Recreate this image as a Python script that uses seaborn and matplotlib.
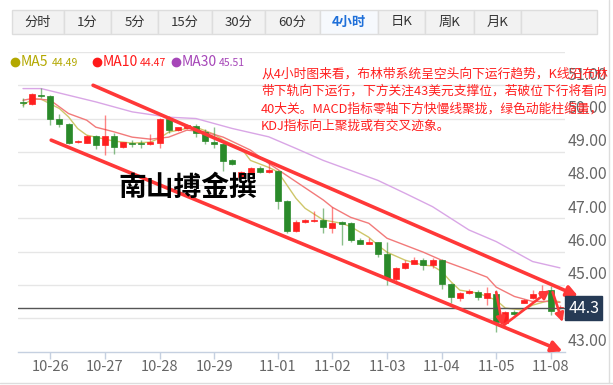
import matplotlib
matplotlib.use("Agg")
import pandas as pd
import matplotlib.pyplot as plt
import seaborn as sns
from matplotlib.patches import Rectangle
from matplotlib.lines import Line2D

W, H = 613, 385

# 4小时K线 (开 / 高 / 低 / 收)，按K线序号排列
opens = [50.50, 50.44, 50.72, 50.67, 49.98, 49.83, 49.28, 49.27, 49.46, 49.20,
         49.47, 49.14, 49.26, 49.25, 49.22, 49.26, 49.98, 49.65, 49.71, 49.78,
         49.58, 49.30, 49.22, 48.74, 48.24, 48.35, 48.50, 48.39, 48.42, 47.51,
         46.62, 46.90, 46.92, 46.94, 46.70, 46.89, 46.85, 46.36, 46.24, 46.28,
         45.92, 45.17, 45.52, 45.64, 45.76, 45.59, 45.74, 45.02, 44.59, 44.74,
         44.79, 44.59, 44.72, 43.85, 44.19, 44.46, 44.60, 44.68, 44.84, 44.30]
highs = [50.62, 50.78, 50.92, 50.72, 50.15, 49.86, 49.36, 49.49, 49.50, 50.10,
         49.56, 49.30, 49.34, 49.35, 49.52, 50.02, 50.08, 49.76, 49.83, 49.85,
         49.68, 49.75, 49.25, 48.77, 48.42, 48.55, 48.58, 48.72, 48.46, 47.55,
         46.95, 46.98, 47.22, 47.30, 47.34, 46.93, 46.90, 46.40, 46.40, 46.30,
         46.29, 45.55, 45.76, 45.84, 45.80, 45.82, 45.78, 45.05, 44.78, 44.86,
         44.84, 44.94, 44.84, 44.22, 44.24, 44.56, 44.85, 45.00, 44.97, 44.40]
lows = [50.36, 50.40, 50.62, 49.80, 49.74, 49.22, 49.26, 49.25, 49.08, 48.90,
        48.93, 49.12, 49.14, 49.10, 49.20, 49.12, 49.55, 49.62, 49.69, 49.45,
        49.24, 49.10, 48.43, 48.60, 48.20, 48.33, 48.36, 48.36, 47.27, 46.55,
        46.58, 46.86, 46.88, 46.56, 46.56, 46.19, 46.30, 46.22, 46.22, 45.83,
        44.99, 45.02, 45.48, 45.62, 45.46, 45.50, 44.87, 44.45, 44.52, 44.72,
        44.55, 44.40, 43.57, 43.78, 44.10, 44.44, 44.56, 44.64, 44.10, 44.28]
closes = [50.46, 50.73, 50.67, 49.98, 49.83, 49.25, 49.31, 49.46, 49.20, 49.47,
          49.15, 49.28, 49.23, 49.22, 49.30, 49.99, 49.65, 49.73, 49.80, 49.56,
          49.32, 49.22, 48.73, 48.64, 48.38, 48.50, 48.39, 48.45, 47.51, 46.62,
          46.88, 46.94, 46.96, 46.74, 46.86, 46.82, 46.36, 46.24, 46.30, 45.94,
          45.21, 45.52, 45.66, 45.74, 45.59, 45.76, 45.02, 44.64, 44.74, 44.82,
          44.62, 44.74, 43.87, 44.17, 44.12, 44.54, 44.72, 44.82, 44.20, 44.34]

# 均线 (读图取点)
ma5_idx = [0, 1, 2, 4, 5, 6, 7, 9, 10, 12, 14, 15, 16, 18, 19, 21, 22, 24, 25,
           27, 28, 30, 31, 33, 35, 36, 38, 39, 40, 42, 44, 45, 46, 47, 48, 50,
           52, 53, 55, 56, 58, 59]
ma5_val = [50.40, 50.58, 50.58, 50.30, 50.05, 49.70, 49.50, 49.38, 49.32, 49.26,
           49.29, 49.41, 49.59, 49.70, 49.74, 49.53, 49.35, 49.10, 48.74, 48.53,
           48.40, 47.60, 47.30, 46.95, 46.85, 46.75, 46.43, 46.19, 45.98, 45.74,
           45.59, 45.57, 45.40, 45.10, 44.84, 44.75, 44.54, 44.30, 44.24, 44.39,
           44.54, 44.49]
ma10_idx = [0, 1, 3, 5, 7, 8, 10, 12, 14, 16, 18, 20, 22, 25, 27, 30, 33, 34,
            36, 38, 40, 42, 44, 46, 49, 51, 52, 54, 56, 58, 59]
ma10_val = [50.55, 50.60, 50.55, 50.15, 49.95, 49.74, 49.60, 49.44, 49.38, 49.44,
            49.65, 49.60, 49.44, 49.05, 48.65, 48.10, 47.55, 47.33, 47.03, 46.85,
            46.40, 46.19, 45.98, 45.74, 45.44, 45.23, 44.93, 44.65, 44.50, 44.50,
            44.47]
ma30_idx = [0, 2, 5, 8, 12, 16, 19, 23, 27, 30, 33, 39, 42, 45, 49, 52, 56, 59]
ma30_val = [50.90, 50.90, 50.70, 50.50, 50.20, 50.04, 50.00, 49.70, 49.45, 49.10,
            48.74, 48.14, 47.75, 47.35, 46.65, 46.30, 45.70, 45.51]

ma_names = ["MA5", "MA10", "MA30"]
ma_last = ["44.49", "44.47", "45.51"]

tick_pos = [3, 9, 15, 21, 28, 34, 40, 46, 52, 58]
tick_labels = ["10-26", "10-27", "10-28", "10-29", "11-01",
               "11-02", "11-03", "11-04", "11-05", "11-08"]
price_ticks = [43, 45, 46, 47, 48, 49, 50, 51]
last_price = 44.3

tabs = ["分时", "1分", "5分", "15分", "30分", "60分", "4小时", "日K", "周K", "月K"]
tab_edges = [12, 64, 111, 158, 212, 265, 320, 378, 425, 474, 521, 597]
active_tab = "4小时"

# 通道线与箭头 (K线序号, 价格)
upper_line = [(7.7, 51.0), (61.0, 44.66)]
lower_line = [(3.1, 49.35), (59.3, 43.0)]
swing_arrows = [
    [(52.0, 44.78), (52.7, 43.76)],
    [(52.7, 43.76), (57.9, 44.84)],
    [(58.2, 44.78), (59.3, 43.88)],
]

note_lines = [
    "从4小时图来看，布林带系统呈空头向下运行趋势，K线沿布林",
    "带下轨向下运行，下方关注43美元支撑位，若破位下行将看向",
    "40大关。MACD指标零轴下方快慢线聚拢，绿色动能柱缩量，",
    "KDJ指标向上聚拢或有交叉迹象。",
]
watermark = "南山搏金撰"

RED = "#ff2020"
GREEN = "#2a8a2a"
MA_COLORS = ["#b3a800", "#ff1a1a", "#a646b8"]
MA_LINE_COLORS = ["#cfc66a", "#f27a7a", "#d9a6e6"]

sns.set_theme(style="white")
plt.rcParams["font.family"] = ["Noto Sans CJK SC", "DejaVu Sans"]


def fx(x):
    return x / W


def fy(y):
    return 1 - y / H


fig = plt.figure(figsize=(W / 100, H / 100), dpi=100)
fig.patch.set_facecolor("white")

ax = fig.add_axes([fx(18), 33 / H, 547 / W, 300 / H])
ax.set_facecolor("white")
ax.set_xlim(-0.55, 59.56)
ax.set_ylim(42.98, 52.0)

for v in range(44, 53):
    ax.axhline(v, color="#e6e6e6", lw=1, zorder=0)

# 均线
for idx, val, col in zip([ma5_idx, ma10_idx, ma30_idx],
                         [ma5_val, ma10_val, ma30_val], MA_LINE_COLORS):
    df = pd.DataFrame({"i": idx, "v": val})
    sns.lineplot(data=df, x="i", y="v", ax=ax, color=col, lw=1, zorder=3)

# K线
candles = pd.DataFrame({"o": opens, "h": highs, "l": lows, "c": closes})
candles["i"] = range(len(candles))
up = candles["c"] >= candles["o"]
for mask, col in [(up, RED), (~up, GREEN)]:
    d = candles[mask]
    ax.vlines(d["i"], d["l"], d["h"], color=col, lw=1, alpha=0.55, zorder=4)
    body = (d["c"] - d["o"]).abs().clip(lower=0.04)
    bottom = d[["o", "c"]].min(axis=1)
    ax.bar(d["i"], body, bottom=bottom, width=0.66, color=col,
           edgecolor=col, lw=0.5, zorder=5)

ax.axhline(last_price, color="#555555", lw=1, zorder=6)

# 通道线
for (x0, y0), (x1, y1) in [upper_line, lower_line]:
    ax.annotate("", xy=(x1, y1), xytext=(x0, y0), annotation_clip=False,
                arrowprops=dict(arrowstyle="-|>", color="#ff3838", lw=2.6,
                                mutation_scale=16, shrinkA=0, shrinkB=0),
                zorder=7)
for (x0, y0), (x1, y1) in swing_arrows:
    ax.annotate("", xy=(x1, y1), xytext=(x0, y0), annotation_clip=False,
                arrowprops=dict(arrowstyle="-|>", color="#ff3838", lw=1.9,
                                mutation_scale=13, shrinkA=0, shrinkB=0),
                zorder=7)

# 坐标轴
for s in ["top", "left", "right"]:
    ax.spines[s].set_visible(False)
ax.spines["bottom"].set_color("#c5d0e0")
ax.spines["bottom"].set_linewidth(1)
ax.set_xticks(tick_pos)
ax.set_xticklabels(tick_labels, fontsize=10.5, color="#666666")
ax.tick_params(axis="x", direction="out", length=5, width=1, color="#c5d0e0",
               pad=1, bottom=True)
ax.set_yticks([])
ax.set_xlabel("")
ax.set_ylabel("")

ytr = ax.get_yaxis_transform()
for v in price_ticks:
    ax.text(1.004, v + 0.05, f"{v:.2f}", transform=ytr, fontsize=11.5,
            color="#666666", va="bottom", ha="left", clip_on=False, zorder=8)
ax.text(1.006, last_price, f"{last_price:.1f}", transform=ytr, fontsize=11.5,
        color="white", va="center", ha="left", clip_on=False, zorder=9,
        bbox=dict(boxstyle="square,pad=0.2", fc="#263a55", ec="#263a55"))

# 顶部周期标签
for k, name in enumerate(tabs):
    x0, x1 = tab_edges[k], tab_edges[k + 1]
    active = name == active_tab
    fig.add_artist(Rectangle((fx(x0), fy(34)), (x1 - x0) / W, 24 / H,
                             transform=fig.transFigure,
                             fc="#f6f9fd" if active else "#f2f2f2",
                             ec="#dddddd", lw=1))
    fig.text(fx((x0 + x1) / 2), fy(22), name, ha="center", va="center",
             fontsize=9.5, color="#1e6fd9" if active else "#333333",
             fontweight="bold" if active else "normal")
fig.add_artist(Rectangle((fx(tab_edges[-2]), fy(34)),
                         (tab_edges[-1] - tab_edges[-2]) / W, 24 / H,
                         transform=fig.transFigure, fc="#f2f2f2",
                         ec="#dddddd", lw=1))

# 图例
leg_x = [15, 97, 176]
for k in range(3):
    x = leg_x[k]
    fig.add_artist(Line2D([fx(x)], [fy(62)], marker="o", ms=6,
                          color=MA_COLORS[k], transform=fig.transFigure))
    fig.text(fx(x + 6), fy(62), ma_names[k], fontsize=10,
             color=MA_COLORS[k], va="center", ha="left")
    fig.text(fx(x + 6 + 31 + 6 * (len(ma_names[k]) - 3)), fy(63), ma_last[k],
             fontsize=7.5, color=MA_COLORS[k], va="center", ha="left")

# 文字说明
for k, line in enumerate(note_lines):
    fig.text(fx(261), fy(74 + 17.5 * k), line, fontsize=9.2, color=RED,
             va="center", ha="left", zorder=10)

fig.text(fx(118), fy(188), watermark, fontsize=20, fontweight="bold",
         color="black", va="center", ha="left", zorder=10)

# 外框
fig.add_artist(Line2D([0, 1], [fy(383), fy(383)], color="#dddddd", lw=1,
                      transform=fig.transFigure))
fig.add_artist(Line2D([fx(609), fx(609)], [fy(383), 1], color="#dddddd",
                      lw=1, transform=fig.transFigure))

fig.savefig("out.png", dpi=100)
